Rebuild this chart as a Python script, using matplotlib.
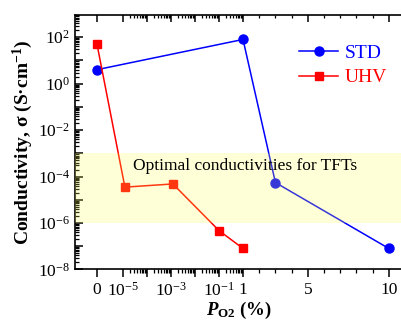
import numpy as np
import matplotlib
matplotlib.use("Agg")
import matplotlib.pyplot as plt

# Data
std_p = [0, 1, 3, 10]
std_sigma = [4.0, 80.0, 5.5e-5, 8e-8]
uhv_p = [0, 1.2e-5, 1.2e-3, 0.1, 1]
uhv_sigma = [50.0, 3.5e-5, 4.8e-5, 4.7e-7, 8e-8]

xtick_vals = [0, 1e-5, 1e-4, 1e-3, 1e-2, 1e-1, 1, 5, 10]
xtick_labels = ['0', r'$\mathregular{10^{-5}}$', '', r'$\mathregular{10^{-3}}$', '',
                r'$\mathregular{10^{-1}}$', '1', '5', '10']
ytick_vals = [1e-8, 1e-7, 1e-6, 1e-5, 1e-4, 1e-3, 1e-2, 1e-1, 1e0, 1e1, 1e2]
band = (1e-6, 1e-3)

plt.rcParams['font.family'] = ['Liberation Serif', 'DejaVu Serif']
plt.rcParams['mathtext.fontset'] = 'custom'
plt.rcParams['mathtext.rm'] = 'Liberation Serif'
plt.rcParams['mathtext.it'] = 'Liberation Serif:italic'
plt.rcParams['mathtext.bf'] = 'Liberation Serif:bold'
plt.rcParams['mathtext.bfit'] = 'Liberation Serif:bold:italic'

# piecewise axis: 0 | log(1e-5..1) | linear(1..10)
ZERO_POS = -6.083
LIN = 0.675

def fwd(x):
    x = np.asarray(x, dtype=float)
    with np.errstate(divide='ignore', invalid='ignore'):
        out = np.where(x <= 0, ZERO_POS + x,
                       np.where(x <= 1, np.log10(x), (x - 1) * LIN))
    return out

def inv(p):
    p = np.asarray(p, dtype=float)
    return np.where(p <= ZERO_POS, p - ZERO_POS,
                    np.where(p <= 0, 10.0 ** p, 1 + p / LIN))

xlim = (-0.917, 10.85)
xminor = [k * 10.0 ** d for d in range(-5, 0) for k in range(2, 10)] + [2, 3, 4, 6, 7, 8, 9]

fig = plt.figure(figsize=(4.01, 3.2), dpi=100)
ax = fig.add_axes([0.187, 0.158, 0.817, 0.795])
ax.set_xscale('function', functions=(fwd, inv))
ax.set_yscale('log')

ax.plot(std_p, std_sigma, '-o', color='#0000ff', lw=1.1, ms=6.5, label='STD', zorder=3)
ax.plot(uhv_p, uhv_sigma, '-s', color='#ff0000', lw=1.1, ms=6, label='UHV', zorder=3)

ax.axhspan(band[0], band[1], color=(1.0, 1.0, 0.3), alpha=0.22, lw=0, zorder=4)
ax.text(2.5e-5, 2.0e-4, 'Optimal conductivities for TFTs', fontsize=12.5, zorder=5)

ax.set_xlim(xlim)
ax.set_ylim(10 ** -8.0, 10 ** 2.75)

ax.set_xticks(xtick_vals)
ax.set_xticklabels(xtick_labels)
ax.set_xticks(xminor, minor=True)

ax.set_yticks(ytick_vals)
ax.set_yticklabels([r'$\mathregular{10^{%d}}$' % int(round(np.log10(v))) if int(round(np.log10(v))) % 2 == 0 else ''
                    for v in ytick_vals])
ax.set_yticks([k * 10.0 ** d for d in range(-8, 3) for k in range(2, 10)], minor=True)

ax.tick_params(axis='both', which='major', labelsize=12.5, length=5.5, width=1.1)
ax.tick_params(axis='both', which='minor', length=3, width=0.9)
ax.tick_params(axis='y', which='both', direction='in', right=False)
ax.tick_params(axis='x', which='both', direction='out', top=False)
for s in ax.spines.values():
    s.set_linewidth(1.2)

# top axis ticks pointing in (overlay sharing the x scale)
top = fig.add_axes(ax.get_position(), sharex=ax)
top.patch.set_visible(False)
top.yaxis.set_visible(False)
for s in top.spines.values():
    s.set_visible(False)
top.tick_params(axis='x', which='both', direction='in', bottom=False, top=True,
                labelbottom=False, labeltop=False)
top.tick_params(axis='x', which='major', length=5, width=1.1)
top.tick_params(axis='x', which='minor', length=2.5, width=0.9)

ax.set_ylabel(r'Conductivity, σ (S·cm$\mathbf{^{-1}}$)', fontsize=14, fontweight='bold', labelpad=2)
ax.set_xlabel(r'$\mathbfit{P}_{\mathbf{O2}}$ (%)', fontsize=13.5, fontweight='bold', labelpad=0)

leg = ax.legend(loc='upper left', bbox_to_anchor=(0.685, 0.885), frameon=False, fontsize=14,
                handlelength=2.0, handletextpad=0.35, labelspacing=0.35, borderpad=0,
                borderaxespad=0)
for t, c in zip(leg.get_texts(), ['#0000ff', '#ff0000']):
    t.set_color(c)

fig.savefig('out.png', dpi=100)
